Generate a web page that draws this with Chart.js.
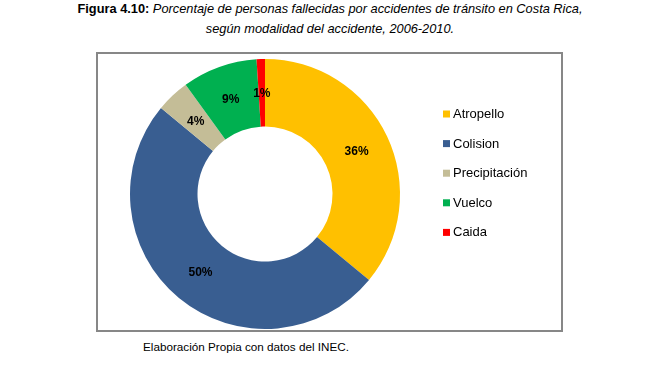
<!DOCTYPE html>
<html>
<head>
<meta charset="utf-8">
<script src="https://cdn.jsdelivr.net/npm/chart.js@4"></script>
<style>
  html, body { margin: 0; padding: 0; background: #fff; }
  body { width: 646px; height: 373px; position: relative; overflow: hidden; font-family: "Liberation Sans", Arial, sans-serif; }
  #title { position: absolute; left: 0; top: -1px; width: 660px; text-align: center; font-size: 12.8px; line-height: 20px; color: #000; }
  #title b { font-weight: bold; }
  #title i { font-style: italic; }
  #box { position: absolute; left: 96px; top: 52px; width: 467px; height: 280px; border: 2px solid #878787; box-sizing: border-box; background: #fff; }
  #chart { position: absolute; left: 0; top: 0; }
  #footer { position: absolute; left: 143px; top: 339px; font-size: 11.7px; line-height: 16px; color: #000; }
</style>
</head>
<body>
<div id="title"><b>Figura 4.10:</b> <i>Porcentaje de personas fallecidas por accidentes de tránsito en Costa Rica,</i><br><i>según modalidad del accidente, 2006-2010.</i></div>
<div id="box"><canvas id="chart" width="463" height="276"></canvas></div>
<div id="footer">Elaboración Propia con datos del INEC.</div>
<script>
const categories = ["Atropello", "Colision", "Precipitación", "Vuelco", "Caida"];
const percentages = [36, 50, 4, 9, 1];
const sliceColors = ["#FFC000", "#395E91", "#C4BD97", "#00B050", "#FF0000"];

const sliceLabels = {
  id: 'sliceLabels',
  afterDatasetsDraw(chart) {
    const ctx = chart.ctx;
    const meta = chart.getDatasetMeta(0);
    ctx.save();
    ctx.font = 'bold 12px "Liberation Sans", Arial, sans-serif';
    ctx.fillStyle = '#000';
    ctx.textAlign = 'center';
    ctx.textBaseline = 'middle';
    meta.data.forEach((arc, i) => {
      const p = arc.tooltipPosition();
      ctx.fillText(chart.data.datasets[0].data[i] + '%', p.x, p.y + 1);
    });
    ctx.restore();
  }
};

const sideLegend = {
  id: 'sideLegend',
  afterDraw(chart, args, opts) {
    const ctx = chart.ctx;
    const ds = chart.data.datasets[0];
    ctx.save();
    ctx.font = '13px "Liberation Sans", Arial, sans-serif';
    ctx.textAlign = 'left';
    ctx.textBaseline = 'middle';
    chart.data.labels.forEach((lab, i) => {
      const y = opts.top + i * opts.spacing;
      ctx.fillStyle = ds.backgroundColor[i];
      ctx.fillRect(opts.left, y - 3.5, 7, 7);
      ctx.fillStyle = '#000';
      ctx.fillText(lab, opts.left + 10, y + 0.5);
    });
    ctx.restore();
  }
};

new Chart(document.getElementById('chart'), {
  type: 'doughnut',
  data: {
    labels: categories,
    datasets: [{
      data: percentages,
      backgroundColor: sliceColors,
      borderWidth: 0
    }]
  },
  options: {
    responsive: false,
    animation: false,
    cutout: '50%',
    layout: { padding: { top: 5, bottom: 1, left: 32, right: 161 } },
    plugins: {
      legend: { display: false },
      tooltip: { enabled: false },
      sideLegend: { left: 345, top: 60, spacing: 29.6 }
    }
  },
  plugins: [sliceLabels, sideLegend]
});
</script>
</body>
</html>
